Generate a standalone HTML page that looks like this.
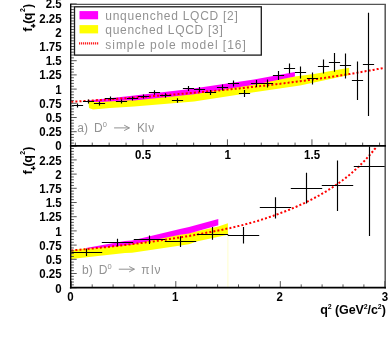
<!DOCTYPE html>
<html><head><meta charset="utf-8"><title>f+(q2)</title><style>html,body{margin:0;padding:0;background:#fff;overflow:hidden}body{width:388px;height:346px}svg,svg text{font-family:"Liberation Sans",sans-serif}</style></head><body>
<svg width="388" height="346" viewBox="0 0 388 346" style="display:block;will-change:transform">
<rect width="388" height="346" fill="#fff"/>
<polygon fill="#ffff00" points="88.5,101.0 130.0,99.0 194.0,92.5 254.0,83.5 294.9,76.6 314.0,74.0 349.2,67.8 349.2,75.0 314.0,82.6 300.0,85.5 254.0,92.2 194.0,101.4 134.0,106.4 110.0,108.0 93.0,109.4 89.0,108.0"/>
<polygon fill="#ff00ff" points="88.5,100.6 130.0,96.1 190.0,89.0 254.0,79.5 294.9,72.0 294.9,76.6 254.0,84.8 194.0,94.3 134.0,100.4 130.0,100.2 100.0,102.0 88.5,101.8"/>
<polygon fill="#ffff00" points="71.0,250.2 125.0,243.5 189.0,233.0 218.3,226.5 227.9,223.2 227.9,234.8 196.5,241.4 189.0,244.3 132.0,252.8 125.0,253.0 71.0,258.9"/>
<line x1="227.9" y1="234" x2="227.9" y2="287" stroke="#ffffcc" stroke-width="1"/>
<polygon fill="#ff00ff" points="86.0,247.9 125.0,241.0 132.0,240.4 180.0,229.0 189.0,227.0 218.3,219.1 218.3,225.2 189.0,233.5 180.0,234.8 132.0,244.5 110.0,247.0 86.0,248.8"/>
<polyline fill="none" stroke="#ff0000" stroke-width="2" stroke-dasharray="2 2.1" points="71.3,101.8 72.3,101.7 73.3,101.7 74.3,101.6 75.3,101.6 76.3,101.5 77.3,101.4 78.3,101.4 79.3,101.3 80.3,101.2 81.3,101.2 82.3,101.1 83.3,101.1 84.3,101.0 85.3,100.9 86.3,100.9 87.3,100.8 88.3,100.7 89.3,100.7 90.3,100.6 91.3,100.5 92.3,100.5 93.3,100.4 94.3,100.3 95.3,100.3 96.3,100.2 97.3,100.1 98.3,100.1 99.3,100.0 100.3,100.0 101.3,99.9 102.3,99.8 103.3,99.8 104.3,99.7 105.3,99.6 106.3,99.5 107.3,99.5 108.3,99.4 109.3,99.3 110.3,99.3 111.3,99.2 112.3,99.1 113.3,99.1 114.3,99.0 115.3,98.9 116.3,98.9 117.3,98.8 118.3,98.7 119.3,98.7 120.3,98.6 121.3,98.5 122.3,98.4 123.3,98.4 124.3,98.3 125.3,98.2 126.3,98.2 127.3,98.1 128.3,98.0 129.3,97.9 130.3,97.9 131.3,97.8 132.3,97.7 133.3,97.7 134.3,97.6 135.3,97.5 136.3,97.4 137.3,97.4 138.3,97.3 139.3,97.2 140.3,97.1 141.3,97.1 142.3,97.0 143.3,96.9 144.3,96.8 145.3,96.8 146.3,96.7 147.3,96.6 148.3,96.5 149.3,96.4 150.3,96.4 151.3,96.3 152.3,96.2 153.3,96.1 154.3,96.1 155.3,96.0 156.3,95.9 157.3,95.8 158.3,95.7 159.3,95.7 160.3,95.6 161.3,95.5 162.3,95.4 163.3,95.3 164.3,95.3 165.3,95.2 166.3,95.1 167.3,95.0 168.3,94.9 169.3,94.9 170.3,94.8 171.3,94.7 172.3,94.6 173.3,94.5 174.3,94.4 175.3,94.4 176.3,94.3 177.3,94.2 178.3,94.1 179.3,94.0 180.3,93.9 181.3,93.9 182.3,93.8 183.3,93.7 184.3,93.6 185.3,93.5 186.3,93.4 187.3,93.3 188.3,93.3 189.3,93.2 190.3,93.1 191.3,93.0 192.3,92.9 193.3,92.8 194.3,92.7 195.3,92.6 196.3,92.5 197.3,92.5 198.3,92.4 199.3,92.3 200.3,92.2 201.3,92.1 202.3,92.0 203.3,91.9 204.3,91.8 205.3,91.7 206.3,91.6 207.3,91.5 208.3,91.4 209.3,91.4 210.3,91.3 211.3,91.2 212.3,91.1 213.3,91.0 214.3,90.9 215.3,90.8 216.3,90.7 217.3,90.6 218.3,90.5 219.3,90.4 220.3,90.3 221.3,90.2 222.3,90.1 223.3,90.0 224.3,89.9 225.3,89.8 226.3,89.7 227.3,89.6 228.3,89.5 229.3,89.4 230.3,89.3 231.3,89.2 232.3,89.1 233.3,89.0 234.3,88.9 235.3,88.8 236.3,88.7 237.3,88.6 238.3,88.5 239.3,88.4 240.3,88.3 241.3,88.2 242.3,88.1 243.3,88.0 244.3,87.9 245.3,87.8 246.3,87.6 247.3,87.5 248.3,87.4 249.3,87.3 250.3,87.2 251.3,87.1 252.3,87.0 253.3,86.9 254.3,86.8 255.3,86.7 256.3,86.6 257.3,86.4 258.3,86.3 259.3,86.2 260.3,86.1 261.3,86.0 262.3,85.9 263.3,85.8 264.3,85.7 265.3,85.5 266.3,85.4 267.3,85.3 268.3,85.2 269.3,85.1 270.3,85.0 271.3,84.8 272.3,84.7 273.3,84.6 274.3,84.5 275.3,84.4 276.3,84.2 277.3,84.1 278.3,84.0 279.3,83.9 280.3,83.8 281.3,83.6 282.3,83.5 283.3,83.4 284.3,83.3 285.3,83.1 286.3,83.0 287.3,82.9 288.3,82.8 289.3,82.6 290.3,82.5 291.3,82.4 292.3,82.3 293.3,82.1 294.3,82.0 295.3,81.9 296.3,81.7 297.3,81.6 298.3,81.5 299.3,81.4 300.3,81.2 301.3,81.1 302.3,81.0 303.3,80.8 304.3,80.7 305.3,80.6 306.3,80.4 307.3,80.3 308.3,80.1 309.3,80.0 310.3,79.9 311.3,79.7 312.3,79.6 313.3,79.5 314.3,79.3 315.3,79.2 316.3,79.0 317.3,78.9 318.3,78.8 319.3,78.6 320.3,78.5 321.3,78.3 322.3,78.2 323.3,78.0 324.3,77.9 325.3,77.7 326.3,77.6 327.3,77.4 328.3,77.3 329.3,77.2 330.3,77.0 331.3,76.9 332.3,76.7 333.3,76.5 334.3,76.4 335.3,76.2 336.3,76.1 337.3,75.9 338.3,75.8 339.3,75.6 340.3,75.5 341.3,75.3 342.3,75.2 343.3,75.0 344.3,74.8 345.3,74.7 346.3,74.5 347.3,74.4 348.3,74.2 349.3,74.0 350.3,73.9 351.3,73.7 352.3,73.5 353.3,73.4 354.3,73.2 355.3,73.0 356.3,72.9 357.3,72.7 358.3,72.5 359.3,72.4 360.3,72.2 361.3,72.0 362.3,71.8 363.3,71.7 364.3,71.5 365.3,71.3 366.3,71.1 367.3,71.0 368.3,70.8 369.3,70.6 370.3,70.4 371.3,70.2 372.3,70.1 373.3,69.9 374.3,69.7 375.3,69.5 376.3,69.3 377.3,69.1 378.3,69.0 379.3,68.8 380.3,68.6 381.3,68.4 382.3,68.2 383.3,68.0"/>
<polyline fill="none" stroke="#ff0000" stroke-width="2" stroke-dasharray="2 2.1" points="71.3,250.5 72.3,250.4 73.3,250.3 74.3,250.2 75.3,250.1 76.3,250.0 77.3,250.0 78.3,249.9 79.3,249.8 80.3,249.7 81.3,249.6 82.3,249.5 83.3,249.4 84.3,249.3 85.3,249.2 86.3,249.1 87.3,249.0 88.3,248.9 89.3,248.8 90.3,248.7 91.3,248.6 92.3,248.5 93.3,248.4 94.3,248.3 95.3,248.2 96.3,248.1 97.3,248.0 98.3,247.9 99.3,247.8 100.3,247.7 101.3,247.6 102.3,247.5 103.3,247.4 104.3,247.3 105.3,247.2 106.3,247.1 107.3,247.0 108.3,246.9 109.3,246.8 110.3,246.7 111.3,246.6 112.3,246.4 113.3,246.3 114.3,246.2 115.3,246.1 116.3,246.0 117.3,245.9 118.3,245.8 119.3,245.7 120.3,245.5 121.3,245.4 122.3,245.3 123.3,245.2 124.3,245.1 125.3,245.0 126.3,244.8 127.3,244.7 128.3,244.6 129.3,244.5 130.3,244.4 131.3,244.2 132.3,244.1 133.3,244.0 134.3,243.9 135.3,243.8 136.3,243.6 137.3,243.5 138.3,243.4 139.3,243.2 140.3,243.1 141.3,243.0 142.3,242.9 143.3,242.7 144.3,242.6 145.3,242.5 146.3,242.3 147.3,242.2 148.3,242.1 149.3,241.9 150.3,241.8 151.3,241.7 152.3,241.5 153.3,241.4 154.3,241.3 155.3,241.1 156.3,241.0 157.3,240.8 158.3,240.7 159.3,240.5 160.3,240.4 161.3,240.3 162.3,240.1 163.3,240.0 164.3,239.8 165.3,239.7 166.3,239.5 167.3,239.4 168.3,239.2 169.3,239.1 170.3,238.9 171.3,238.8 172.3,238.6 173.3,238.5 174.3,238.3 175.3,238.1 176.3,238.0 177.3,237.8 178.3,237.7 179.3,237.5 180.3,237.3 181.3,237.2 182.3,237.0 183.3,236.9 184.3,236.7 185.3,236.5 186.3,236.4 187.3,236.2 188.3,236.0 189.3,235.9 190.3,235.7 191.3,235.5 192.3,235.3 193.3,235.2 194.3,235.0 195.3,234.8 196.3,234.6 197.3,234.5 198.3,234.3 199.3,234.1 200.3,233.9 201.3,233.7 202.3,233.6 203.3,233.4 204.3,233.2 205.3,233.0 206.3,232.8 207.3,232.6 208.3,232.5 209.3,232.3 210.3,232.1 211.3,231.9 212.3,231.7 213.3,231.5 214.3,231.3 215.3,231.1 216.3,230.9 217.3,230.7 218.3,230.5 219.3,230.3 220.3,230.1 221.3,229.9 222.3,229.7 223.3,229.5 224.3,229.3 225.3,229.1 226.3,228.8 227.3,228.6 228.3,228.4 229.3,228.2 230.3,228.0 231.3,227.7 232.3,227.5 233.3,227.3 234.3,227.1 235.3,226.8 236.3,226.6 237.3,226.3 238.3,226.1 239.3,225.9 240.3,225.6 241.3,225.4 242.3,225.1 243.3,224.9 244.3,224.6 245.3,224.3 246.3,224.1 247.3,223.8 248.3,223.5 249.3,223.3 250.3,223.0 251.3,222.7 252.3,222.4 253.3,222.1 254.3,221.9 255.3,221.6 256.3,221.3 257.3,221.0 258.3,220.7 259.3,220.4 260.3,220.1 261.3,219.8 262.3,219.4 263.3,219.1 264.3,218.8 265.3,218.5 266.3,218.1 267.3,217.8 268.3,217.5 269.3,217.1 270.3,216.8 271.3,216.5 272.3,216.1 273.3,215.8 274.3,215.4 275.3,215.0 276.3,214.7 277.3,214.3 278.3,214.0 279.3,213.6 280.3,213.2 281.3,212.8 282.3,212.4 283.3,212.1 284.3,211.7 285.3,211.3 286.3,210.9 287.3,210.5 288.3,210.1 289.3,209.7 290.3,209.3 291.3,208.8 292.3,208.4 293.3,208.0 294.3,207.6 295.3,207.1 296.3,206.7 297.3,206.3 298.3,205.8 299.3,205.4 300.3,204.9 301.3,204.5 302.3,204.0 303.3,203.5 304.3,203.1 305.3,202.6 306.3,202.1 307.3,201.6 308.3,201.1 309.3,200.6 310.3,200.1 311.3,199.6 312.3,199.1 313.3,198.6 314.3,198.1 315.3,197.5 316.3,197.0 317.3,196.5 318.3,195.9 319.3,195.4 320.3,194.8 321.3,194.2 322.3,193.6 323.3,193.1 324.3,192.5 325.3,191.9 326.3,191.3 327.3,190.7 328.3,190.0 329.3,189.4 330.3,188.8 331.3,188.1 332.3,187.5 333.3,186.8 334.3,186.2 335.3,185.5 336.3,184.8 337.3,184.1 338.3,183.4 339.3,182.7 340.3,182.0 341.3,181.2 342.3,180.5 343.3,179.7 344.3,179.0 345.3,178.2 346.3,177.4 347.3,176.6 348.3,175.8 349.3,175.0 350.3,174.1 351.3,173.3 352.3,172.4 353.3,171.5 354.3,170.6 355.3,169.7 356.3,168.8 357.3,167.9 358.3,167.0 359.3,166.0 360.3,165.0 361.3,164.0 362.3,163.0 363.3,162.0 364.3,161.0 365.3,159.9 366.3,158.8 367.3,157.7 368.3,156.6 369.3,155.5 370.3,154.3 371.3,153.2 372.3,152.0 373.3,150.8 374.3,149.5 375.3,148.3 376.3,147.0"/>
<path d="M71.9 105.5H83.1M77.5 103.5V107.5" stroke="#000" stroke-width="1.15" fill="none"/>
<path d="M82.9 101.5H94.1M88.5 99.5V103.5" stroke="#000" stroke-width="1.15" fill="none"/>
<path d="M93.9 103.5H105.1M99.5 101.5V105.5" stroke="#000" stroke-width="1.15" fill="none"/>
<path d="M104.9 98.5H116.1M110.5 96.5V100.5" stroke="#000" stroke-width="1.15" fill="none"/>
<path d="M115.9 101.5H127.1M121.5 99.5V103.5" stroke="#000" stroke-width="1.15" fill="none"/>
<path d="M126.9 98.5H138.1M132.5 96.5V100.5" stroke="#000" stroke-width="1.15" fill="none"/>
<path d="M137.9 96.5H149.1M143.5 94.5V98.5" stroke="#000" stroke-width="1.15" fill="none"/>
<path d="M148.9 92.5H160.1M154.5 90.3V94.7" stroke="#000" stroke-width="1.15" fill="none"/>
<path d="M159.9 95.5H171.1M165.5 93.3V97.7" stroke="#000" stroke-width="1.15" fill="none"/>
<path d="M171.9 100.5H183.1M177.5 98.3V102.7" stroke="#000" stroke-width="1.15" fill="none"/>
<path d="M182.9 88.5H194.1M188.5 86.0V91.0" stroke="#000" stroke-width="1.15" fill="none"/>
<path d="M193.9 89.5H205.1M199.5 87.0V92.0" stroke="#000" stroke-width="1.15" fill="none"/>
<path d="M204.9 92.5H216.1M210.5 90.0V95.0" stroke="#000" stroke-width="1.15" fill="none"/>
<path d="M216.9 87.5H228.1M222.5 84.5V90.5" stroke="#000" stroke-width="1.15" fill="none"/>
<path d="M227.9 83.5H239.1M233.5 80.5V86.5" stroke="#000" stroke-width="1.15" fill="none"/>
<path d="M238.9 93.5H250.1M244.5 90.0V97.0" stroke="#000" stroke-width="1.15" fill="none"/>
<path d="M250.9 83.5H262.1M256.5 80.0V87.0" stroke="#000" stroke-width="1.15" fill="none"/>
<path d="M261.9 83.5H273.1M267.5 79.5V87.5" stroke="#000" stroke-width="1.15" fill="none"/>
<path d="M272.9 75.5H284.1M278.5 71.0V80.0" stroke="#000" stroke-width="1.15" fill="none"/>
<path d="M283.9 68.5H295.1M289.5 63.5V73.5" stroke="#000" stroke-width="1.15" fill="none"/>
<path d="M294.9 72.5H306.1M300.5 66.5V78.5" stroke="#000" stroke-width="1.15" fill="none"/>
<path d="M306.9 78.5H318.1M312.5 72.5V84.5" stroke="#000" stroke-width="1.15" fill="none"/>
<path d="M317.9 66.5H329.1M323.5 59.5V73.5" stroke="#000" stroke-width="1.15" fill="none"/>
<path d="M328.9 62.5H340.1M334.5 53.1V71.7" stroke="#000" stroke-width="1.15" fill="none"/>
<path d="M339.9 65.5H351.1M345.5 53.5V78.5" stroke="#000" stroke-width="1.15" fill="none"/>
<path d="M351.9 80.5H363.1M357.5 61.5V100.0" stroke="#000" stroke-width="1.15" fill="none"/>
<path d="M362.9 64.5H374.1M368.5 12.7V116.1" stroke="#000" stroke-width="1.15" fill="none"/>
<path d="M71.3 252.5H102.2M86.5 248.7V255.9" stroke="#000" stroke-width="1.15" fill="none"/>
<path d="M101.8 242.5H133.2M117.5 238.8V246.2" stroke="#000" stroke-width="1.15" fill="none"/>
<path d="M133.8 239.5H165.2M149.5 235.5V244.0" stroke="#000" stroke-width="1.15" fill="none"/>
<path d="M164.8 241.5H196.2M180.5 236.3V247.0" stroke="#000" stroke-width="1.15" fill="none"/>
<path d="M196.8 234.5H228.2M212.5 227.0V239.8" stroke="#000" stroke-width="1.15" fill="none"/>
<path d="M227.8 235.5H259.2M243.5 227.0V243.5" stroke="#000" stroke-width="1.15" fill="none"/>
<path d="M259.8 207.5H291.2M275.5 197.3V218.5" stroke="#000" stroke-width="1.15" fill="none"/>
<path d="M290.8 188.5H322.2M306.5 172.8V203.5" stroke="#000" stroke-width="1.15" fill="none"/>
<path d="M321.8 185.5H353.2M337.5 160.5V211.0" stroke="#000" stroke-width="1.15" fill="none"/>
<path d="M353.8 166.5H385.2M369.5 146.5V236.0" stroke="#000" stroke-width="1.15" fill="none"/>
<path d="M70.7 145.90h6.0M70.7 143.06h3.2M70.7 140.22h3.2M70.7 137.38h3.2M70.7 134.54h3.2M70.7 131.70h6.0M70.7 128.86h3.2M70.7 126.02h3.2M70.7 123.18h3.2M70.7 120.34h3.2M70.7 117.50h6.0M70.7 114.66h3.2M70.7 111.82h3.2M70.7 108.98h3.2M70.7 106.14h3.2M70.7 103.30h6.0M70.7 100.46h3.2M70.7 97.62h3.2M70.7 94.78h3.2M70.7 91.94h3.2M70.7 89.10h6.0M70.7 86.26h3.2M70.7 83.42h3.2M70.7 80.58h3.2M70.7 77.74h3.2M70.7 74.90h6.0M70.7 72.06h3.2M70.7 69.22h3.2M70.7 66.38h3.2M70.7 63.54h3.2M70.7 60.70h6.0M70.7 57.86h3.2M70.7 55.02h3.2M70.7 52.18h3.2M70.7 49.34h3.2M70.7 46.50h6.0M70.7 43.66h3.2M70.7 40.82h3.2M70.7 37.98h3.2M70.7 35.14h3.2M70.7 32.30h6.0M70.7 29.46h3.2M70.7 26.62h3.2M70.7 23.78h3.2M70.7 20.94h3.2M70.7 18.10h6.0M70.7 15.26h3.2M70.7 12.42h3.2M70.7 9.58h3.2M70.7 6.74h3.2M70.7 3.90h6.0M70.7 287.70h6.0M70.7 284.86h3.2M70.7 282.02h3.2M70.7 279.18h3.2M70.7 276.34h3.2M70.7 273.50h6.0M70.7 270.66h3.2M70.7 267.82h3.2M70.7 264.98h3.2M70.7 262.14h3.2M70.7 259.30h6.0M70.7 256.46h3.2M70.7 253.62h3.2M70.7 250.78h3.2M70.7 247.94h3.2M70.7 245.10h6.0M70.7 242.26h3.2M70.7 239.42h3.2M70.7 236.58h3.2M70.7 233.74h3.2M70.7 230.90h6.0M70.7 228.06h3.2M70.7 225.22h3.2M70.7 222.38h3.2M70.7 219.54h3.2M70.7 216.70h6.0M70.7 213.86h3.2M70.7 211.02h3.2M70.7 208.18h3.2M70.7 205.34h3.2M70.7 202.50h6.0M70.7 199.66h3.2M70.7 196.82h3.2M70.7 193.98h3.2M70.7 191.14h3.2M70.7 188.30h6.0M70.7 185.46h3.2M70.7 182.62h3.2M70.7 179.78h3.2M70.7 176.94h3.2M70.7 174.10h6.0M70.7 171.26h3.2M70.7 168.42h3.2M70.7 165.58h3.2M70.7 162.74h3.2M70.7 159.90h6.0M70.7 157.06h3.2M70.7 154.22h3.2M70.7 151.38h3.2M70.7 148.54h3.2M70.7 145.70h6.0" stroke="#444" stroke-width="0.9" fill="none"/>
<path d="M75.35 145.8v-3.2M92.25 145.8v-3.2M109.15 145.8v-3.2M126.05 145.8v-3.2M142.95 145.8v-6.5M159.85 145.8v-3.2M176.75 145.8v-3.2M193.65 145.8v-3.2M210.55 145.8v-3.2M227.45 145.8v-6.5M244.35 145.8v-3.2M261.25 145.8v-3.2M278.15 145.8v-3.2M295.05 145.8v-3.2M311.95 145.8v-6.5M328.85 145.8v-3.2M345.75 145.8v-3.2M362.65 145.8v-3.2M379.55 145.8v-3.2M71.30 287.6v-6.5M92.20 287.6v-3.2M113.10 287.6v-3.2M134.00 287.6v-3.2M154.90 287.6v-3.2M175.80 287.6v-6.5M196.70 287.6v-3.2M217.60 287.6v-3.2M238.50 287.6v-3.2M259.40 287.6v-3.2M280.30 287.6v-6.5M301.20 287.6v-3.2M322.10 287.6v-3.2M343.00 287.6v-3.2M363.90 287.6v-3.2M384.80 287.6v-6.5" stroke="#444" stroke-width="0.9" fill="none"/>
<path d="M70.1 4.3H385.9" stroke="#555" stroke-width="1.3" fill="none"/>
<path d="M385.2 4.3V288.5" stroke="#555" stroke-width="1.5" fill="none"/>
<path d="M70.7 3.7V288.5" stroke="#000" stroke-width="1.35" fill="none"/>
<path d="M69.9 145.8H385.9M69.9 287.6H385.9" stroke="#000" stroke-width="1.8" fill="none"/>
<rect x="74.5" y="6.8" width="186.8" height="48.3" fill="#fff" stroke="#1a1a1a" stroke-width="1.3"/>
<rect x="79.5" y="11.1" width="18.6" height="8.2" fill="#ff00ff"/>
<rect x="79.5" y="25.1" width="18.6" height="8.3" fill="#ffff00"/>
<path d="M79 43.3H98.6" stroke="#ff2020" stroke-width="2.2" stroke-dasharray="1.2 0.8" fill="none"/>
<text x="105.3" y="20.0" fill="#929292" font-size="12px" textLength="132.5" lengthAdjust="spacing">unquenched LQCD [2]</text>
<text x="105.3" y="34.2" fill="#929292" font-size="12px" textLength="117.5" lengthAdjust="spacing">quenched LQCD [3]</text>
<text x="105.3" y="48.6" fill="#929292" font-size="12px" textLength="140.5" lengthAdjust="spacing">simple pole model [16]</text>
<text x="77.3" y="132.3" fill="#929292" font-size="12px">a)</text>
<text x="93.9" y="132.3" fill="#929292" font-size="12px">D</text>
<text x="102.8" y="127.2" fill="#929292" font-size="7.5px">0</text>
<path d="M114.1 127.9H129.4M124.2 125.2L129.4 127.9L124.2 130.6" stroke="#929292" stroke-width="1" fill="none"/>
<text x="136.9" y="132.3" fill="#929292" font-size="12px">K</text>
<text x="144.7" y="132.3" fill="#929292" font-size="12px">l</text>
<text x="148.3" y="132.3" fill="#929292" font-size="12px">ν</text>
<text x="82.0" y="274.0" fill="#929292" font-size="12px">b)</text>
<text x="98.8" y="274.0" fill="#929292" font-size="12px">D</text>
<text x="107.5" y="268.7" fill="#929292" font-size="7.5px">0</text>
<path d="M118.8 269.2H134.4M129.2 266.5L134.4 269.2L129.2 271.9" stroke="#929292" stroke-width="1" fill="none"/>
<text x="141.3" y="274.0" fill="#929292" font-size="12px">π</text>
<text x="151.0" y="274.0" fill="#929292" font-size="12px">l</text>
<text x="154.6" y="274.0" fill="#929292" font-size="12px">ν</text>
<text transform="translate(61.6 146.25) scale(1 1.07)" x="0" y="3.95" text-anchor="end" font-weight="bold" font-size="11.5px" fill="#000">0</text>
<text transform="translate(61.6 132.04) scale(1 1.07)" x="0" y="3.95" text-anchor="end" font-weight="bold" font-size="11.5px" fill="#000">0.25</text>
<text transform="translate(61.6 117.82) scale(1 1.07)" x="0" y="3.95" text-anchor="end" font-weight="bold" font-size="11.5px" fill="#000">0.5</text>
<text transform="translate(61.6 103.61) scale(1 1.07)" x="0" y="3.95" text-anchor="end" font-weight="bold" font-size="11.5px" fill="#000">0.75</text>
<text transform="translate(61.6 89.40) scale(1 1.07)" x="0" y="3.95" text-anchor="end" font-weight="bold" font-size="11.5px" fill="#000">1</text>
<text transform="translate(61.6 75.19) scale(1 1.07)" x="0" y="3.95" text-anchor="end" font-weight="bold" font-size="11.5px" fill="#000">1.25</text>
<text transform="translate(61.6 60.97) scale(1 1.07)" x="0" y="3.95" text-anchor="end" font-weight="bold" font-size="11.5px" fill="#000">1.5</text>
<text transform="translate(61.6 46.76) scale(1 1.07)" x="0" y="3.95" text-anchor="end" font-weight="bold" font-size="11.5px" fill="#000">1.75</text>
<text transform="translate(61.6 32.55) scale(1 1.07)" x="0" y="3.95" text-anchor="end" font-weight="bold" font-size="11.5px" fill="#000">2</text>
<text transform="translate(61.6 18.34) scale(1 1.07)" x="0" y="3.95" text-anchor="end" font-weight="bold" font-size="11.5px" fill="#000">2.25</text>
<text transform="translate(61.6 4.12) scale(1 1.07)" x="0" y="3.95" text-anchor="end" font-weight="bold" font-size="11.5px" fill="#000">2.5</text>
<text transform="translate(61.6 288.30) scale(1 1.07)" x="0" y="3.95" text-anchor="end" font-weight="bold" font-size="11.5px" fill="#000">0</text>
<text transform="translate(61.6 274.09) scale(1 1.07)" x="0" y="3.95" text-anchor="end" font-weight="bold" font-size="11.5px" fill="#000">0.25</text>
<text transform="translate(61.6 259.88) scale(1 1.07)" x="0" y="3.95" text-anchor="end" font-weight="bold" font-size="11.5px" fill="#000">0.5</text>
<text transform="translate(61.6 245.66) scale(1 1.07)" x="0" y="3.95" text-anchor="end" font-weight="bold" font-size="11.5px" fill="#000">0.75</text>
<text transform="translate(61.6 231.45) scale(1 1.07)" x="0" y="3.95" text-anchor="end" font-weight="bold" font-size="11.5px" fill="#000">1</text>
<text transform="translate(61.6 217.24) scale(1 1.07)" x="0" y="3.95" text-anchor="end" font-weight="bold" font-size="11.5px" fill="#000">1.25</text>
<text transform="translate(61.6 203.03) scale(1 1.07)" x="0" y="3.95" text-anchor="end" font-weight="bold" font-size="11.5px" fill="#000">1.5</text>
<text transform="translate(61.6 188.81) scale(1 1.07)" x="0" y="3.95" text-anchor="end" font-weight="bold" font-size="11.5px" fill="#000">1.75</text>
<text transform="translate(61.6 174.60) scale(1 1.07)" x="0" y="3.95" text-anchor="end" font-weight="bold" font-size="11.5px" fill="#000">2</text>
<text transform="translate(61.6 160.39) scale(1 1.07)" x="0" y="3.95" text-anchor="end" font-weight="bold" font-size="11.5px" fill="#000">2.25</text>
<text transform="translate(143.1 155.25) scale(1 1.07)" x="0" y="3.95" text-anchor="middle" font-weight="bold" font-size="11.5px" fill="#000">0.5</text>
<text transform="translate(227.6 155.25) scale(1 1.07)" x="0" y="3.95" text-anchor="middle" font-weight="bold" font-size="11.5px" fill="#000">1</text>
<text transform="translate(312.1 155.25) scale(1 1.07)" x="0" y="3.95" text-anchor="middle" font-weight="bold" font-size="11.5px" fill="#000">1.5</text>
<text transform="translate(70.5 296.65) scale(1 1.07)" x="0" y="3.95" text-anchor="middle" font-weight="bold" font-size="11.5px" fill="#000">0</text>
<text transform="translate(175.1 296.65) scale(1 1.07)" x="0" y="3.95" text-anchor="middle" font-weight="bold" font-size="11.5px" fill="#000">1</text>
<text transform="translate(279.6 296.65) scale(1 1.07)" x="0" y="3.95" text-anchor="middle" font-weight="bold" font-size="11.5px" fill="#000">2</text>
<text transform="translate(384.9 296.65) scale(1 1.07)" x="0" y="3.95" text-anchor="middle" font-weight="bold" font-size="11.5px" fill="#000">3</text>
<text x="320.2" y="314.2" textLength="65.6" lengthAdjust="spacing" font-weight="bold" font-size="12.5px" fill="#000">q<tspan font-size="7px" dy="-5.4">2</tspan><tspan dy="5.4"> (GeV</tspan><tspan font-size="7px" dy="-5.4">2</tspan><tspan dy="5.4">/c</tspan><tspan font-size="7px" dy="-5.4">2</tspan><tspan dy="5.4">)</tspan></text>
<g transform="translate(32.2 32.0) rotate(-90)" font-weight="bold" fill="#000" font-size="12.5px"><text x="0.2" y="0">f</text><text x="4.3" y="4.0" font-size="6.5px" stroke="#000" stroke-width="0.7">+</text><text x="8.2" y="0">(</text><text x="11.8" y="0">q</text><text x="19.9" y="-6.8" font-size="7px">2</text><text x="23.9" y="0">)</text></g>
<g transform="translate(32.2 174.6) rotate(-90)" font-weight="bold" fill="#000" font-size="12.5px"><text x="0.2" y="0">f</text><text x="4.3" y="4.0" font-size="6.5px" stroke="#000" stroke-width="0.7">+</text><text x="8.2" y="0">(</text><text x="11.8" y="0">q</text><text x="19.9" y="-6.8" font-size="7px">2</text><text x="23.9" y="0">)</text></g>
</svg>
</body></html>
